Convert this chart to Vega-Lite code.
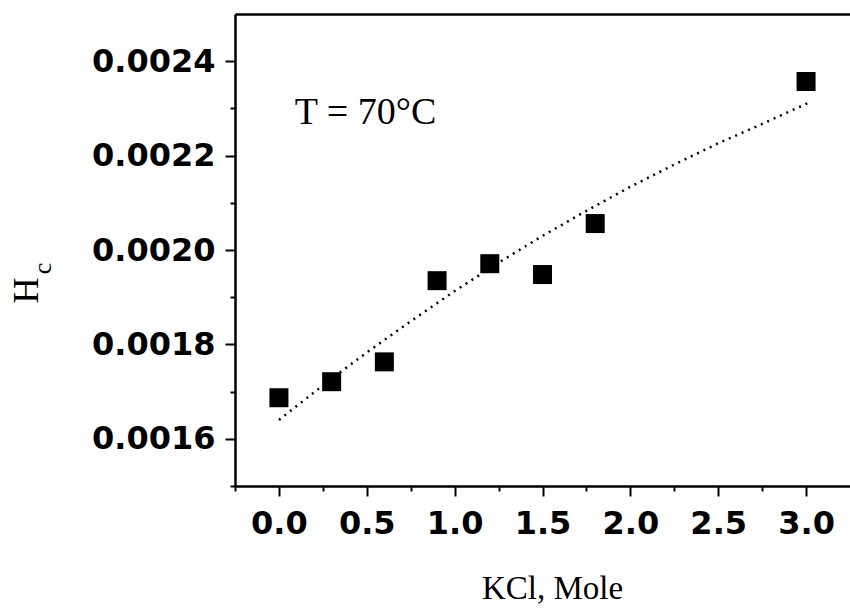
{
  "$schema": "https://vega.github.io/schema/vega-lite/v6.json",
  "width": 615,
  "height": 472,
  "autosize": {"type": "none"},
  "padding": {"left": 235, "top": 14, "right": 0, "bottom": 125},
  "background": "white",
  "config": {
    "view": {"stroke": null},
    "axis": {
      "grid": false,
      "domainColor": "black",
      "domainWidth": 2.5,
      "tickColor": "black",
      "tickWidth": 2,
      "labelColor": "black",
      "titleColor": "black"
    }
  },
  "datasets": {
    "measured": [
      {"kcl": 0.0, "hc": 0.001687},
      {"kcl": 0.3, "hc": 0.001721},
      {"kcl": 0.6, "hc": 0.001763},
      {"kcl": 0.9, "hc": 0.001935},
      {"kcl": 1.2, "hc": 0.001971},
      {"kcl": 1.5, "hc": 0.001948},
      {"kcl": 1.8, "hc": 0.002056},
      {"kcl": 3.0, "hc": 0.002357}
    ],
    "fit": [
      {"kcl": 0.0, "hc": 0.001640},
      {"kcl": 0.25, "hc": 0.001713},
      {"kcl": 0.5, "hc": 0.001783},
      {"kcl": 0.75, "hc": 0.001849},
      {"kcl": 1.0, "hc": 0.001913},
      {"kcl": 1.25, "hc": 0.001973},
      {"kcl": 1.5, "hc": 0.002030},
      {"kcl": 1.75, "hc": 0.002083},
      {"kcl": 2.0, "hc": 0.002134},
      {"kcl": 2.25, "hc": 0.002181},
      {"kcl": 2.5, "hc": 0.002226},
      {"kcl": 2.75, "hc": 0.002267},
      {"kcl": 3.02, "hc": 0.002313}
    ],
    "notes": [
      {"label": "T = 70°C", "kcl": 0.09, "hc": 0.002268}
    ],
    "subscript": [
      {"label": "c", "kcl": -1.295, "hc": 0.001961}
    ]
  },
  "resolve": {"axis": {"x": "independent", "y": "independent"}},
  "layer": [
    {
      "data": {"name": "fit"},
      "mark": {"type": "line", "color": "black", "strokeWidth": 2.5, "strokeDash": [2, 5]},
      "encoding": {
        "x": {
          "field": "kcl", "type": "quantitative",
          "scale": {"domain": [-0.25, 3.25], "nice": false, "zero": false},
          "axis": {
            "orient": "bottom",
            "values": [0, 0.5, 1, 1.5, 2, 2.5, 3],
            "format": ".1f",
            "tickSize": 10,
            "labelFont": "DejaVu Sans",
            "labelFontWeight": "bold",
            "labelFontSize": 32,
            "labelPadding": 12,
            "labelFlush": false,
            "labelOverlap": false,
            "title": "KCl, Mole",
            "titleFont": "Liberation Serif",
            "titleFontWeight": "normal",
            "titleFontSize": 33,
            "titleX": 317,
            "titleY": 112,
            "titleAlign": "center",
            "titleBaseline": "alphabetic"
          }
        },
        "y": {
          "field": "hc", "type": "quantitative",
          "scale": {"domain": [0.0015, 0.0025], "nice": false, "zero": false},
          "axis": {
            "orient": "left",
            "values": [0.0016, 0.0018, 0.002, 0.0022, 0.0024],
            "format": ".4f",
            "tickSize": 10,
            "labelFont": "DejaVu Sans",
            "labelFontWeight": "bold",
            "labelFontSize": 32,
            "labelPadding": 10,
            "labelFlush": false,
            "labelOverlap": false,
            "title": "H",
            "titleFont": "Liberation Serif",
            "titleFontWeight": "normal",
            "titleFontSize": 36,
            "titleAngle": 270,
            "titleX": -198,
            "titleY": 276,
            "titleAlign": "center",
            "titleBaseline": "alphabetic"
          }
        }
      }
    },
    {
      "data": {"name": "measured"},
      "mark": {"type": "square", "color": "black", "filled": true, "opacity": 1, "size": 361},
      "encoding": {
        "x": {
          "field": "kcl", "type": "quantitative",
          "axis": {
            "orient": "bottom",
            "values": [-0.25, 0.25, 0.75, 1.25, 1.75, 2.25, 2.75],
            "tickSize": 5,
            "labels": false,
            "domain": false,
            "title": null
          }
        },
        "y": {
          "field": "hc", "type": "quantitative",
          "axis": {
            "orient": "left",
            "values": [0.0015, 0.0017, 0.0019, 0.0021, 0.0023],
            "tickSize": 5,
            "labels": false,
            "domain": false,
            "title": null
          }
        }
      }
    },
    {
      "data": {"name": "notes"},
      "mark": {"type": "text", "font": "Liberation Serif", "fontSize": 38, "align": "left", "baseline": "alphabetic", "color": "black"},
      "encoding": {
        "x": {
          "field": "kcl", "type": "quantitative",
          "axis": {"orient": "top", "labels": false, "ticks": false, "domain": true, "title": null}
        },
        "y": {"field": "hc", "type": "quantitative", "axis": null},
        "text": {"field": "label"}
      }
    },
    {
      "data": {"name": "subscript"},
      "mark": {"type": "text", "font": "Liberation Serif", "fontSize": 26, "align": "center", "baseline": "alphabetic", "angle": 270, "color": "black"},
      "encoding": {
        "x": {"field": "kcl", "type": "quantitative", "axis": null},
        "y": {"field": "hc", "type": "quantitative", "axis": null},
        "text": {"field": "label"}
      }
    }
  ]
}
